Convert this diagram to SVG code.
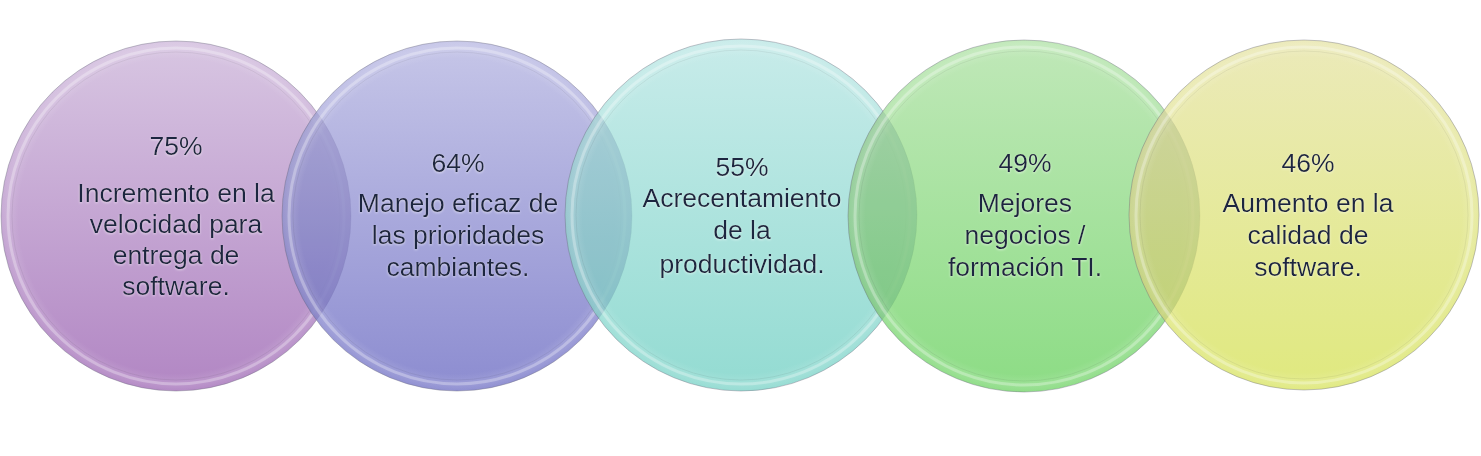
<svg xmlns="http://www.w3.org/2000/svg" width="1481" height="456" viewBox="0 0 1481 456">
<style>
.fill{fill-opacity:.85;stroke:#6a6a7a;stroke-opacity:.4;stroke-width:1}
.ring{fill:none;stroke:#fff;stroke-opacity:.28;stroke-width:3}
.ring2{fill:none;stroke:#000;stroke-opacity:.06;stroke-width:1}
.gloss{fill:url(#gloss)}
.lens{fill:#202060;fill-opacity:.09}
text{font-family:"Liberation Sans",Arial,sans-serif;font-size:26.5px;fill:#1e2640;text-anchor:middle;filter:url(#ts)}
</style>
<defs>
<filter id="ts" x="-10%" y="-10%" width="120%" height="120%"><feDropShadow dx="0" dy="1" stdDeviation="1" flood-color="#ffffff" flood-opacity="0.5"/></filter>
<radialGradient id="gloss" cx="0.5" cy="0.5" r="0.5"><stop offset="0.9" stop-color="#fff" stop-opacity="0"/><stop offset="0.96" stop-color="#fff" stop-opacity="0.14"/><stop offset="1" stop-color="#fff" stop-opacity="0.03"/></radialGradient>
<linearGradient id="g1" x1="0" y1="0" x2="0" y2="1"><stop offset="0" stop-color="#d1bcdd"/><stop offset="1" stop-color="#a471b9"/></linearGradient>
<linearGradient id="g2" x1="0" y1="0" x2="0" y2="1"><stop offset="0" stop-color="#bcbce4"/><stop offset="1" stop-color="#7878c8"/></linearGradient>
<linearGradient id="g3" x1="0" y1="0" x2="0" y2="1"><stop offset="0" stop-color="#bee8e6"/><stop offset="1" stop-color="#80d5ca"/></linearGradient>
<linearGradient id="g4" x1="0" y1="0" x2="0" y2="1"><stop offset="0" stop-color="#b5e4ac"/><stop offset="1" stop-color="#78d66f"/></linearGradient>
<linearGradient id="g5" x1="0" y1="0" x2="0" y2="1"><stop offset="0" stop-color="#e8e6ad"/><stop offset="1" stop-color="#dae568"/></linearGradient>
<clipPath id="c2"><circle cx="457" cy="216" r="175"/></clipPath>
<clipPath id="c3"><circle cx="741" cy="215" r="176"/></clipPath>
<clipPath id="c4"><circle cx="1024" cy="216" r="176"/></clipPath>
<clipPath id="c5"><circle cx="1304" cy="215" r="175"/></clipPath>
</defs>
<rect width="1481" height="456" fill="#ffffff"/>
<g id="connectors"></g>
<g id="node1">
<circle class="fill" cx="176" cy="216" r="175" fill="url(#g1)"/>
<circle class="gloss" cx="176" cy="216" r="175"/>
<circle class="ring" cx="176" cy="216" r="168"/>
<circle class="ring2" cx="176" cy="216" r="164"/>
<text><tspan x="176" y="155">75%</tspan><tspan x="176" y="202">Incremento en la</tspan><tspan x="176" y="233">velocidad para</tspan><tspan x="176" y="264">entrega de</tspan><tspan x="176" y="295">software.</tspan></text>
</g>
<g id="node2">
<circle class="fill" cx="457" cy="216" r="175" fill="url(#g2)"/>
<circle class="lens" cx="176" cy="216" r="175" clip-path="url(#c2)"/>
<circle class="gloss" cx="457" cy="216" r="175"/>
<circle class="ring" cx="457" cy="216" r="168"/>
<circle class="ring2" cx="457" cy="216" r="164"/>
<text><tspan x="458" y="172">64%</tspan><tspan x="458" y="212">Manejo eficaz de</tspan><tspan x="458" y="244">las prioridades</tspan><tspan x="458" y="276">cambiantes.</tspan></text>
</g>
<g id="node3">
<circle class="fill" cx="741" cy="215" r="176" fill="url(#g3)"/>
<circle class="lens" cx="457" cy="216" r="175" clip-path="url(#c3)"/>
<circle class="gloss" cx="741" cy="215" r="176"/>
<circle class="ring" cx="741" cy="215" r="169"/>
<circle class="ring2" cx="741" cy="215" r="165"/>
<text><tspan x="742" y="176">55%</tspan><tspan x="742" y="207">Acrecentamiento</tspan><tspan x="742" y="239">de la</tspan><tspan x="742" y="273">productividad.</tspan></text>
</g>
<g id="node4">
<circle class="fill" cx="1024" cy="216" r="176" fill="url(#g4)"/>
<circle class="lens" cx="741" cy="215" r="176" clip-path="url(#c4)"/>
<circle class="gloss" cx="1024" cy="216" r="176"/>
<circle class="ring" cx="1024" cy="216" r="169"/>
<circle class="ring2" cx="1024" cy="216" r="165"/>
<text><tspan x="1025" y="172">49%</tspan><tspan x="1025" y="212">Mejores</tspan><tspan x="1025" y="244">negocios /</tspan><tspan x="1025" y="276">formación TI.</tspan></text>
</g>
<g id="node5">
<circle class="fill" cx="1304" cy="215" r="175" fill="url(#g5)"/>
<circle class="lens" cx="1024" cy="216" r="176" clip-path="url(#c5)"/>
<circle class="gloss" cx="1304" cy="215" r="175"/>
<circle class="ring" cx="1304" cy="215" r="168"/>
<circle class="ring2" cx="1304" cy="215" r="164"/>
<text><tspan x="1308" y="172">46%</tspan><tspan x="1308" y="212">Aumento en la</tspan><tspan x="1308" y="244">calidad de</tspan><tspan x="1308" y="276">software.</tspan></text>
</g>
</svg>
